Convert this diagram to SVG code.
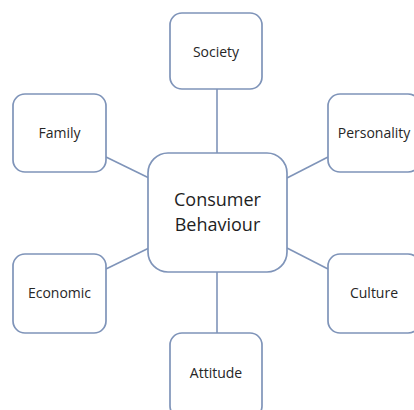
<svg xmlns="http://www.w3.org/2000/svg" width="414" height="410" viewBox="0 0 414 410">
<style>
.box{fill:#fff;stroke:#7f94b9;stroke-width:1.7}
.ln{stroke:#7f94b9;stroke-width:1.6;fill:none}
.t{font-family:"Open Sans","Liberation Sans",sans-serif;font-size:14px;fill:#262626;text-anchor:middle}
.c{font-family:"Open Sans","Liberation Sans",sans-serif;font-size:18px;fill:#1e1e1e;text-anchor:middle}
</style>
<rect width="414" height="410" fill="#fff"/>
<g id="connectors">
<line class="ln" x1="217" y1="89" x2="217" y2="153"/>
<line class="ln" x1="217" y1="272" x2="217" y2="333"/>
<line class="ln" x1="106" y1="157" x2="149" y2="178"/>
<line class="ln" x1="287" y1="178" x2="328" y2="157"/>
<line class="ln" x1="106" y1="269" x2="149" y2="248"/>
<line class="ln" x1="287" y1="248" x2="328" y2="269"/>
</g>
<g id="center">
<rect class="box" x="148" y="153" width="139" height="119" rx="20"/>
<text class="c" x="217.5" y="206">Consumer</text>
<text class="c" x="217.5" y="230.5">Behaviour</text>
</g>
<g id="society">
<rect class="box" x="170" y="13" width="92" height="76" rx="12"/>
<text class="t" x="216" y="56.5">Society</text>
</g>
<g id="family">
<rect class="box" x="13" y="94" width="93" height="78" rx="12"/>
<text class="t" x="59.5" y="138">Family</text>
</g>
<g id="personality">
<rect class="box" x="328" y="94" width="92" height="78" rx="12"/>
<text class="t" x="374" y="138">Personality</text>
</g>
<g id="economic">
<rect class="box" x="13" y="254" width="93" height="79" rx="12"/>
<text class="t" x="59.5" y="298">Economic</text>
</g>
<g id="culture">
<rect class="box" x="328" y="254" width="92" height="79" rx="12"/>
<text class="t" x="374" y="298">Culture</text>
</g>
<g id="attitude">
<rect class="box" x="170" y="333" width="92" height="85" rx="12"/>
<text class="t" x="216" y="377.5">Attitude</text>
</g>
</svg>
